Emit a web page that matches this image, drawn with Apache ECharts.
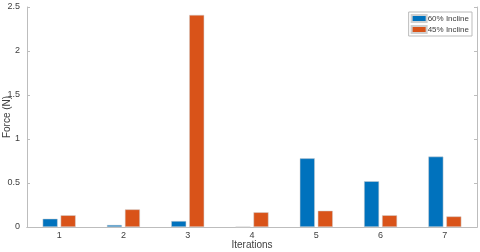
<!DOCTYPE html>
<html><head><meta charset="utf-8">
<script src="https://cdn.jsdelivr.net/npm/echarts@6/dist/echarts.min.js"></script>
<style>html,body{margin:0;padding:0;background:#fff}#c{width:480px;height:252px}</style>
</head><body><div id="c"></div>
<script>
var categories = ['1','2','3','4','5','6','7'];
var incline60 = [0.094, 0.023, 0.068, 0.002, 0.78, 0.52, 0.80];
var incline45 = [0.133, 0.20, 2.41, 0.167, 0.185, 0.133, 0.12];
var seriesNames = ['60% Incline','45% Incline'];
var axisColor = '#bdbdbd';
var textColor = '#404040';
var chart = echarts.init(document.getElementById('c'), null, {renderer:'canvas'});
chart.setOption({
  animation:false,
  grid:{left:27,right:3,top:7,bottom:25,containLabel:false,outerBoundsMode:'none'},
  legend:{
    data:seriesNames, right:8, top:12, orient:'vertical',
    itemWidth:15, itemHeight:7, itemGap:2, padding:[2,3,2,2],
    borderColor:'#bbb', borderWidth:1, backgroundColor:'#fff',
    textStyle:{fontSize:8, color:textColor, fontFamily:'Liberation Sans', padding:[0,0,0,-4]},
    icon:'rect'
  },
  xAxis:[{
    type:'category', data:categories, position:'bottom',
    name:'Iterations', nameLocation:'middle', nameGap:13, nameMoveOverlap:false,
    nameTextStyle:{fontSize:10, color:textColor, fontFamily:'Liberation Sans'},
    axisLine:{lineStyle:{color:axisColor}},
    axisTick:{inside:true, alignWithLabel:true, length:3, lineStyle:{color:axisColor}},
    axisLabel:{fontSize:9, color:textColor, margin:4, fontFamily:'Liberation Sans'}
  },{
    type:'category', data:categories, position:'top',
    axisLine:{lineStyle:{color:axisColor}},
    axisTick:{inside:true, alignWithLabel:true, length:3, lineStyle:{color:axisColor}},
    axisLabel:{show:false}
  }],
  yAxis:[{
    type:'value', min:0, max:2.5, interval:0.5, position:'left',
    name:'Force (N)', nameLocation:'middle', nameGap:15, nameMoveOverlap:false,
    nameTextStyle:{fontSize:10, color:textColor, fontFamily:'Liberation Sans'},
    axisLine:{show:true, lineStyle:{color:axisColor}},
    axisTick:{show:true, inside:true, length:3, lineStyle:{color:axisColor}},
    axisLabel:{fontSize:9, color:textColor, margin:7, fontFamily:'Liberation Sans'},
    splitLine:{show:false}
  },{
    type:'value', min:0, max:2.5, interval:0.5, position:'right',
    axisLine:{show:true, lineStyle:{color:axisColor}},
    axisTick:{show:true, inside:true, length:3, lineStyle:{color:axisColor}},
    axisLabel:{show:false}, splitLine:{show:false}
  }],
  series:[{
    name:seriesNames[0], type:'bar', data:incline60, barWidth:15, barGap:'20%',
    itemStyle:{color:'#0072BD', borderColor:'#d0d0d0', borderWidth:0.5}
  },{
    name:seriesNames[1], type:'bar', data:incline45, barWidth:15, barGap:'20%',
    itemStyle:{color:'#D95319', borderColor:'#d0d0d0', borderWidth:0.5}
  }]
});
</script></body></html>
